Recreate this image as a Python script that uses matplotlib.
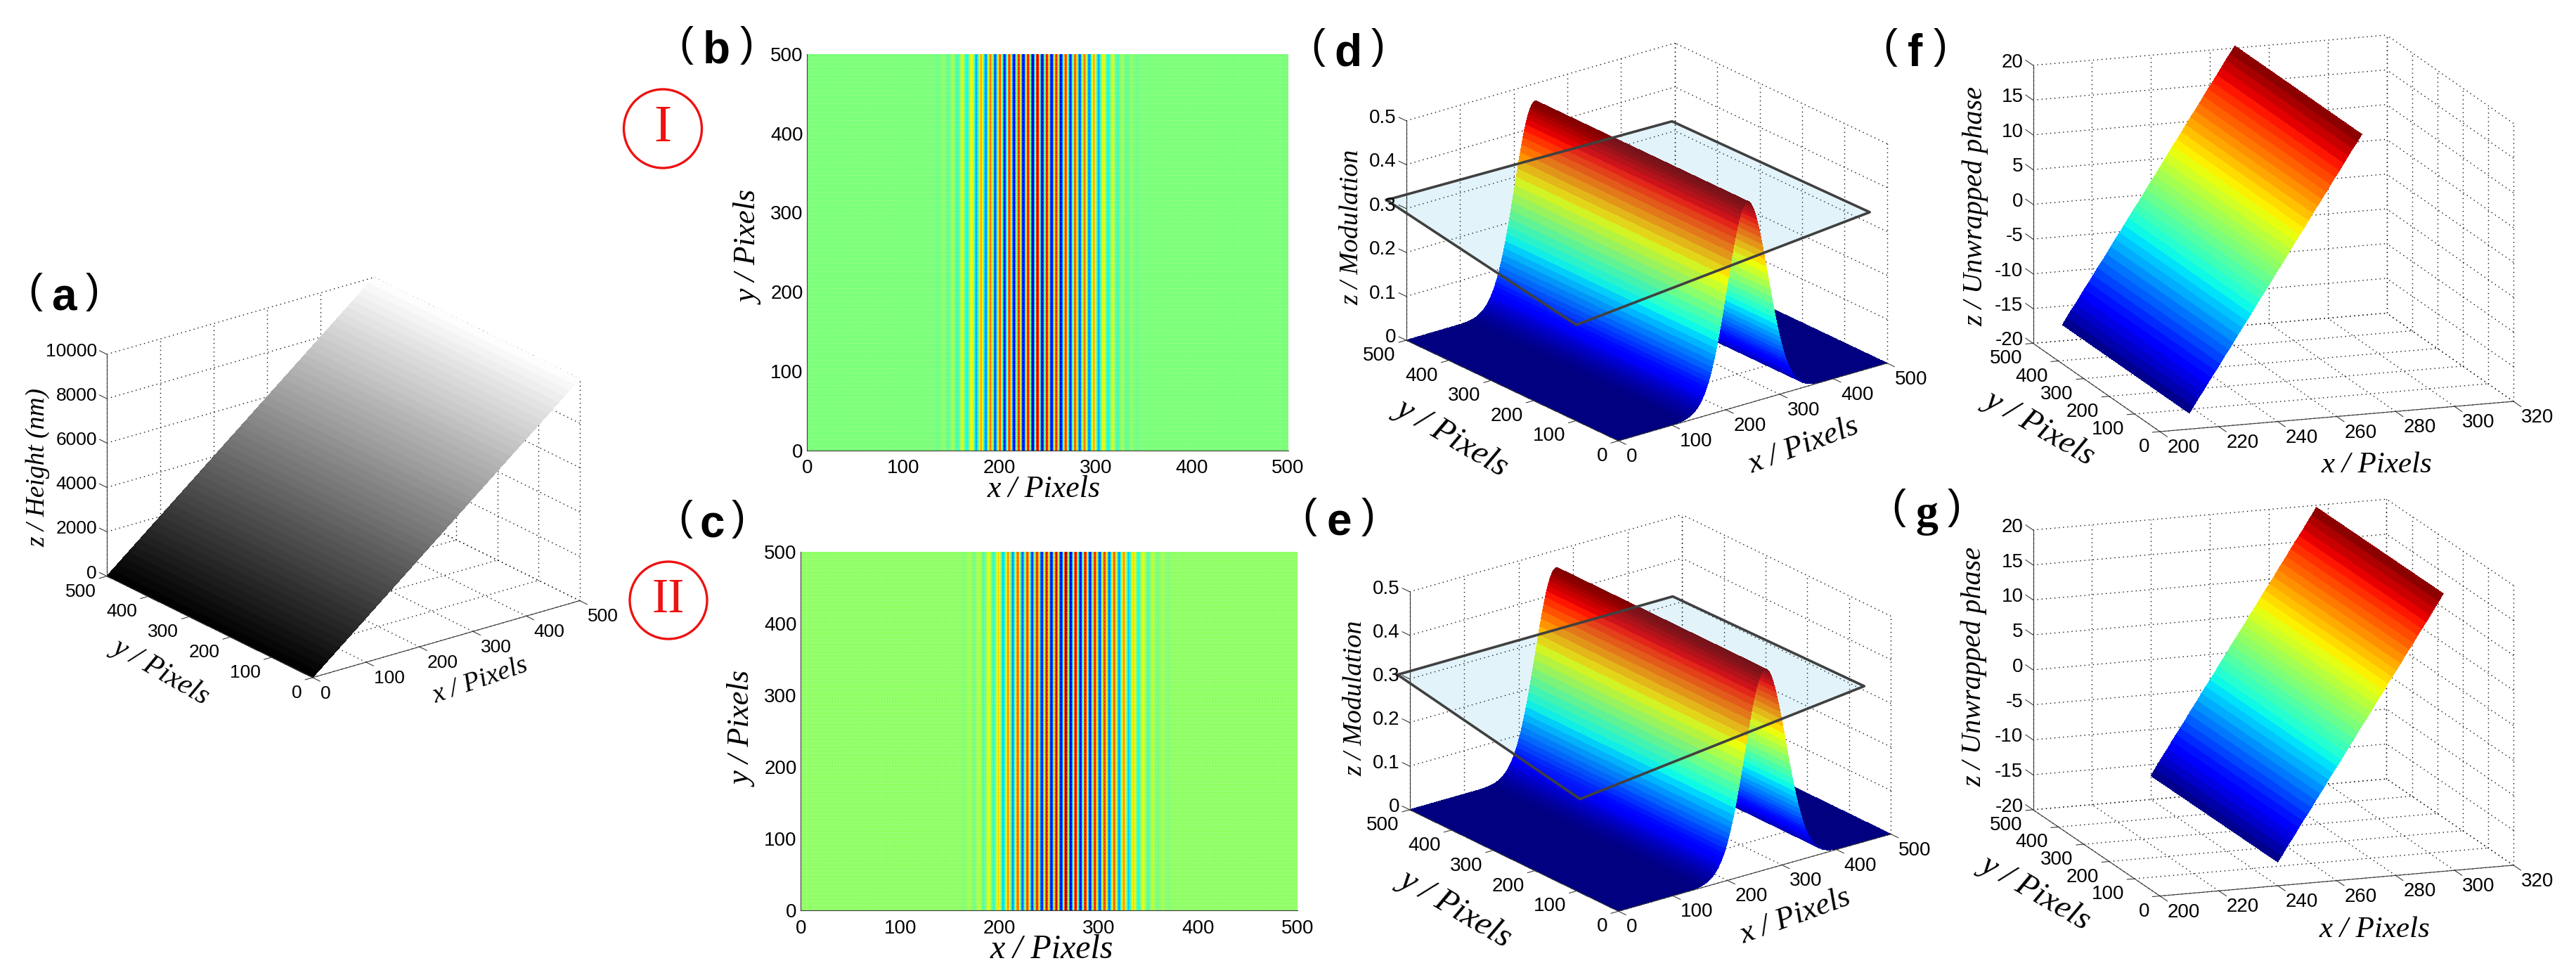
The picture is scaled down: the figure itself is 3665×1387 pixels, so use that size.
import math

import matplotlib
matplotlib.use("Agg")
import matplotlib.pyplot as plt
import numpy as np
from matplotlib.patches import Ellipse
from mpl_toolkits.mplot3d import proj3d
from mpl_toolkits.mplot3d.art3d import Poly3DCollection

W, H = 3666, 1387

# (a) height ramp, read every 10 pixels along x
height_x = list(range(0, 510, 10))
height_z = [0, 200, 400, 600, 800, 1000, 1200, 1400, 1600, 1800, 2000, 2200, 2400,
            2600, 2800, 3000, 3200, 3400, 3600, 3800, 4000, 4200, 4400, 4600, 4800,
            5000, 5200, 5400, 5600, 5800, 6000, 6200, 6400, 6600, 6800, 7000, 7200,
            7400, 7600, 7800, 8000, 8200, 8400, 8600, 8800, 9000, 9200, 9400, 9600,
            9800, 10000]

# (b), (c) fringe crests and troughs
fringe_b_x = [137.1, 142.0, 146.9, 151.8, 156.6, 161.5, 166.4, 171.3, 176.1, 181.0, 185.9,
              190.8, 195.6, 200.5, 205.4, 210.3, 215.1, 220.0, 224.9, 229.8, 234.6, 239.5,
              244.4, 249.3, 254.1, 259.0, 263.9, 268.8, 273.6, 278.5, 283.4, 288.3, 293.1,
              298.0, 302.9, 307.8, 312.6, 317.5, 322.4, 327.3, 332.1, 337.0, 341.9]
fringe_c_x = [165.2, 170.0, 174.9, 179.7, 184.6, 189.4, 194.3, 199.1, 204.0, 208.8, 213.7,
              218.5, 223.4, 228.2, 233.1, 237.9, 242.8, 247.6, 252.5, 257.3, 262.2, 267.0,
              271.9, 276.7, 281.6, 286.4, 291.3, 296.1, 301.0, 305.8, 310.7, 315.5, 320.4,
              325.2, 330.1, 334.9, 339.8, 344.6, 349.5, 354.3, 359.2, 364.0, 368.9]
fringe_v = [-0.03, 0.05, -0.07, 0.10, -0.15, 0.20, -0.25, 0.32, -0.40, 0.46, -0.50,
            0.58, -0.60, 0.65, -0.70, 0.72, -0.80, 0.78, -0.85, 0.82, -0.88, 0.95,
            -0.88, 0.82, -0.85, 0.78, -0.80, 0.72, -0.70, 0.65, -0.60, 0.58, -0.50,
            0.46, -0.40, 0.32, -0.25, 0.20, -0.15, 0.10, -0.07, 0.05, -0.03]
fringe_b_base = 0.0
fringe_c_base = 0.05

# (d), (e) modulation ridge, distance from ridge centre and height
mod_center_d = 240
mod_center_e = 269
mod_dist = [140, 135, 130, 125, 120, 117.5, 115, 112.5, 110, 107.5, 105, 102.5, 100, 97.5,
            95, 92.5, 90, 87.5, 85, 82.5, 80, 77.5, 75, 72.5, 70, 67.5, 65, 62.5, 60, 57.5,
            55, 52.5, 50, 47.5, 45, 42.5, 40, 37.5, 35, 32.5, 30, 27.5, 25, 22.5, 20, 17.5,
            15, 12.5, 10, 7.5, 5, 2.5, 0]
mod_z = [0.0005, 0.0008, 0.0013, 0.0021, 0.0031, 0.0039, 0.0047, 0.0058, 0.0070, 0.0084,
         0.0101, 0.0121, 0.0144, 0.0171, 0.0202, 0.0237, 0.0278, 0.0325, 0.0377, 0.0436,
         0.0501, 0.0575, 0.0656, 0.0745, 0.0843, 0.0948, 0.1065, 0.1190, 0.1323, 0.1464,
         0.1614, 0.1771, 0.1935, 0.2106, 0.2282, 0.2462, 0.2643, 0.2827, 0.3010, 0.3191,
         0.3369, 0.3540, 0.3705, 0.3860, 0.4005, 0.4137, 0.4255, 0.4358, 0.4444, 0.4511,
         0.4560, 0.4590, 0.4600]

# threshold planes at z = 0.3
plane_d_x = [-2, 520, 527, -87]
plane_d_y = [544, 532, 75, -11]
plane_e_x = [-4, 502, 510, -89]
plane_e_y = [524, 525, 77, -24]
plane_z = 0.3

# (f), (g) unwrapped phase
phase_f_x = [210 + 1.5 * i for i in range(40)]
phase_f_z = [-17.7, -16.7, -15.7, -14.8, -13.8, -12.8, -11.9, -10.9, -9.9, -9.0, -8.0, -7.0,
             -6.0, -5.1, -4.1, -3.1, -2.1, -1.2, -0.2, 0.8, 1.8, 2.7, 3.7, 4.7, 5.7, 6.7,
             7.6, 8.6, 9.6, 10.6, 11.5, 12.5, 13.5, 14.5, 15.4, 16.4, 17.4, 18.4, 19.3, 20.3]
phase_g_x = [240 + 1.44 * i for i in range(40)]
phase_g_z = [-16.6, -15.7, -14.7, -13.8, -12.9, -11.9, -11.0, -10.1, -9.2, -8.2, -7.3, -6.4,
             -5.4, -4.5, -3.6, -2.7, -1.7, -0.8, 0.1, 1.1, 2.0, 2.9, 3.8, 4.8, 5.7, 6.6,
             7.6, 8.5, 9.4, 10.3, 11.3, 12.2, 13.1, 14.1, 15.0, 15.9, 16.8, 17.8, 18.7, 19.7]

ticks_500 = [0, 100, 200, 300, 400, 500]
ticks_height = [0, 2000, 4000, 6000, 8000, 10000]
ticks_mod = [0, 0.1, 0.2, 0.3, 0.4, 0.5]
labels_mod = ["0", "0.1", "0.2", "0.3", "0.4", "0.5"]
ticks_phase_x = [200, 220, 240, 260, 280, 300, 320]
ticks_phase_z = [-20, -15, -10, -5, 0, 5, 10, 15, 20]

plt.rcParams["font.family"] = ["Liberation Sans", "DejaVu Sans"]
fig = plt.figure(figsize=(W / 100, H / 100), dpi=100, facecolor="white")

LINE = "#3a3a3a"
GRID = dict(color="#111111", lw=1.0, ls=(0, (1, 3.4)), zorder=1)
TICK_PT = 20

# full-figure layer in pixel coordinates for every label
ov = fig.add_axes([0, 0, 1, 1], zorder=20)
ov.set_xlim(0, W)
ov.set_ylim(H, 0)
ov.axis("off")


def to_px(ax, x, y, z):
    ax.apply_aspect()
    px, py, _ = proj3d.proj_transform(x, y, z, ax.get_proj())
    return ax.transData.transform((px, py))


def make_3d(origin, xvec, yvec, zlen, xlim, ylim, zlim):
    # work out the view from where the corners of the box sit in the picture
    r1 = -xvec[1] / xvec[0]
    r2 = yvec[1] / yvec[0]
    sin_e = math.sqrt(r1 * r2)
    ang = math.atan(math.sqrt(r1 / r2))
    elev = math.asin(sin_e)
    sx = xvec[0] / math.cos(ang)
    sy = -yvec[0] / math.sin(ang)
    sz = zlen / math.cos(elev)

    size = 1500
    ax = fig.add_axes([(origin[0] - size / 2) / W, 1 - (origin[1] + size / 2) / H, size / W, size / H],
                      projection="3d", computed_zorder=False)
    ax.set_proj_type("ortho")
    ax.view_init(elev=math.degrees(elev), azim=-90 - math.degrees(ang))
    ax.set_xlim(*xlim, view_margin=0)
    ax.set_ylim(*ylim, view_margin=0)
    ax.set_zlim(*zlim, view_margin=0)
    ax.set_box_aspect((sx, sy, sz))
    ax.set_axis_off()
    ax.patch.set_visible(False)

    p0 = to_px(ax, xlim[0], ylim[0], zlim[0])
    p1 = to_px(ax, xlim[1], ylim[0], zlim[0])
    ax.set_box_aspect((sx, sy, sz), zoom=xvec[0] / (p1[0] - p0[0]))
    p0 = to_px(ax, xlim[0], ylim[0], zlim[0])
    dx = origin[0] - p0[0]
    dy = (H - origin[1]) - p0[1]
    pos = ax.get_position()
    ax.set_position([pos.x0 + dx / W, pos.y0 + dy / H, pos.width, pos.height])
    return ax


def tick_text(ax, x, y, z, s, dx, dy, ha, size):
    p = to_px(ax, x, y, z)
    ov.text(p[0] + dx, H - p[1] + dy, s, ha=ha, va="center", fontsize=size)


def draw_frame(ax, xvec, yvec, xticks, yticks, zticks, xlabels, ylabels, zlabels, size=TICK_PT):
    x0, x1 = ax.get_xlim()
    y0, y1 = ax.get_ylim()
    z0, z1 = ax.get_zlim()
    for t in xticks:
        ax.plot([t, t], [y0, y1], [z0, z0], **GRID)
        ax.plot([t, t], [y1, y1], [z0, z1], **GRID)
    for t in yticks:
        ax.plot([x0, x1], [t, t], [z0, z0], **GRID)
        ax.plot([x1, x1], [t, t], [z0, z1], **GRID)
    for t in zticks:
        ax.plot([x0, x1], [y1, y1], [t, t], **GRID)
        ax.plot([x1, x1], [y0, y1], [t, t], **GRID)

    axis = dict(color=LINE, lw=0.8, zorder=6)
    ax.plot([x0, x1], [y0, y0], [z0, z0], **axis)
    ax.plot([x0, x0], [y0, y1], [z0, z0], **axis)
    ax.plot([x0, x0], [y1, y1], [z0, z1], **axis)

    # tick marks are about 10 px long on screen
    ty = 10.5 / abs(yvec[0]) * (y1 - y0)
    tx = 10.5 / abs(xvec[0]) * (x1 - x0)
    for t, s in zip(xticks, xlabels):
        ax.plot([t, t], [y0, y0 - ty], [z0, z0], **axis)
        tick_text(ax, t, y0, z0, s, 11, 23, "left", size)
    for t, s in zip(yticks, ylabels):
        ax.plot([x0, x0 - tx], [t, t], [z0, z0], **axis)
        tick_text(ax, x0, t, z0, s, -15, 22, "right", size)
    for t, s in zip(zticks, zlabels):
        ax.plot([x0, x0], [y1, y1 + ty], [t, t], **axis)
        tick_text(ax, x0, y1, t, s, -14, -4, "right", size)


def draw_ridge(ax, x, z, cmap, vmin, vmax, y0=0, y1=500):
    xx, yy = np.meshgrid(x, [y0, y1])
    zz = np.vstack([z, z])
    ax.plot_surface(xx, yy, zz, rstride=1, cstride=1, cmap=cmap, vmin=vmin, vmax=vmax,
                    shade=False, antialiased=False, linewidth=0, zorder=3)


def draw_plane(ax, xs, ys, z):
    verts = [list(zip(xs, ys, [z] * len(xs)))]
    ax.add_collection3d(Poly3DCollection(verts, facecolor=(0.12, 0.63, 0.85, 0.12),
                                         edgecolor="none", zorder=4))
    ax.plot(xs + xs[:1], ys + ys[:1], [z] * (len(xs) + 1), color="#404040", lw=2.6, zorder=5)


def draw_fringe(rect, x, v, base):
    ax = fig.add_axes([rect[0] / W, 1 - rect[3] / H, (rect[2] - rect[0]) / W, (rect[3] - rect[1]) / H])
    step = (x[-1] - x[0]) / (len(x) - 1)
    n_left = int(x[0] // step) + 2
    n_right = int((500 - x[-1]) // step) + 2
    vals = np.pad(np.array(v), (n_left, n_right)) + base
    left = x[0] - step * n_left - step / 2
    right = x[-1] + step * n_right + step / 2
    # interpolation on the data so that red to blue runs through the whole colormap
    ax.imshow(np.vstack([vals, vals, vals, vals]), extent=(left, right, 0, 500), origin="lower", aspect="auto",
              cmap="jet", vmin=-1, vmax=1, interpolation="catrom", interpolation_stage="data")
    ax.hlines(np.arange(3, 500, 5.3), 0, 500, colors="white", linestyles=(0, (1, 3)), lw=0.7, alpha=0.55)
    ax.set_xlim(0, 500)
    ax.set_ylim(0, 500)
    ax.set_xticks(ticks_500)
    ax.set_yticks(ticks_500)
    ax.tick_params(length=0, labelsize=TICK_PT)
    ax.tick_params(axis="x", pad=9)
    ax.tick_params(axis="y", pad=4)
    for side in ["top", "right"]:
        ax.spines[side].set_visible(False)
    for side in ["left", "bottom"]:
        ax.spines[side].set_color(LINE)
        ax.spines[side].set_linewidth(0.8)
    return ax


# ---------- (a)
a_x, a_y = (380, -109.4), (-292.8, -144.3)
ax_a = make_3d((444.8, 963.9), a_x, a_y, 315.6, (0, 500), (0, 500), (0, 10000))
draw_frame(ax_a, a_x, a_y, ticks_500, ticks_500, ticks_height,
           [str(t) for t in ticks_500], [str(t) for t in ticks_500], [str(t) for t in ticks_height], size=19)
draw_ridge(ax_a, height_x, height_z, "gray", 0, 10000)

# ---------- (b), (c)
draw_fringe((1148.3, 77, 1832.6, 640.5), fringe_b_x, fringe_v, fringe_b_base)
draw_fringe((1139.4, 785.4, 1846, 1295.4), fringe_c_x, fringe_v, fringe_c_base)

# ---------- (d), (e)
d_x_full = [0] + [mod_center_d - d for d in mod_dist] + [mod_center_d + d for d in mod_dist[-2::-1]] + [500]
e_x_full = [0] + [mod_center_e - d for d in mod_dist] + [mod_center_e + d for d in mod_dist[-2::-1]] + [500]
mod_full = [0] + mod_z + mod_z[-2::-1] + [0]

d_x, d_y = (382.2, -110.5), (-301.9, -143.1)
ax_d = make_3d((2302.6, 627.1), d_x, d_y, 312.2, (0, 500), (0, 500), (0, 0.5))
draw_frame(ax_d, d_x, d_y, ticks_500, ticks_500, ticks_mod,
           [str(t) for t in ticks_500], [str(t) for t in ticks_500], labels_mod)
draw_ridge(ax_d, d_x_full, mod_full, "jet", 0, 0.46)
draw_plane(ax_d, plane_d_x, plane_d_y, plane_z)

e_x, e_y = (387.6, -109.7), (-297.1, -144.4)
ax_e = make_3d((2302.7, 1296.3), e_x, e_y, 310.1, (0, 500), (0, 500), (0, 0.5))
draw_frame(ax_e, e_x, e_y, ticks_500, ticks_500, ticks_mod,
           [str(t) for t in ticks_500], [str(t) for t in ticks_500], labels_mod)
draw_ridge(ax_e, e_x_full, mod_full, "jet", 0, 0.46)
draw_plane(ax_e, plane_e_x, plane_e_y, plane_z)

# ---------- (f), (g)
f_x, f_y = (503, -43), (-180.5, -125.6)
ax_f = make_3d((3073, 614), f_x, f_y, 395.5, (200, 320), (0, 500), (-20, 20))
draw_frame(ax_f, f_x, f_y, ticks_phase_x, ticks_500, ticks_phase_z,
           [str(t) for t in ticks_phase_x], [str(t) for t in ticks_500], [str(t) for t in ticks_phase_z])
draw_ridge(ax_f, phase_f_x, phase_f_z, "jet", -17.7, 20.3)

g_x, g_y = (503, -43.8), (-180.5, -122.7)
ax_g = make_3d((3073, 1274.6), g_x, g_y, 398, (200, 320), (0, 500), (-20, 20))
draw_frame(ax_g, g_x, g_y, ticks_phase_x, ticks_500, ticks_phase_z,
           [str(t) for t in ticks_phase_x], [str(t) for t in ticks_500], [str(t) for t in ticks_phase_z])
draw_ridge(ax_g, phase_g_x, phase_g_z, "jet", -16.6, 19.7)


def axis_label(x, y, s, size, rot):
    ov.text(x, y, s, family=["Liberation Serif", "DejaVu Serif"], style="italic", fontsize=size,
            rotation=rot, rotation_mode="anchor", ha="center", va="center")


def panel_label(cx, cy, half, letter, family="Liberation Sans"):
    ov.text(cx - half + 6, cy, "(", fontsize=43, ha="center", va="center")
    ov.text(cx + half - 6, cy, ")", fontsize=43, ha="center", va="center")
    ov.text(cx, cy + 26, letter, family=family, fontsize=46, weight="bold", ha="center", va="baseline")


panel_label(90.7, 415.6, 47, "a")
panel_label(1019.5, 64, 49, "b")
panel_label(1013, 738.6, 44, "c")
panel_label(1917.8, 67.7, 49, "d")
panel_label(1905, 735.5, 48, "e")
panel_label(2725, 67.7, 42, "f")
panel_label(2741, 722.5, 46, "g", family="Liberation Serif")

axis_label(54.5, 664.7, "z / Height (nm)", 27, 90)
axis_label(683, 968, "x / Pixels", 27.7, 19)
axis_label(229.6, 954.8, "y / Pixels", 30, -30)

axis_label(1485, 696, "x / Pixels", 31.6, 0)
axis_label(1067, 352.6, "y / Pixels", 31.6, 90)
axis_label(1496, 1351, "x / Pixels", 34.5, 0)
axis_label(1058, 1037, "y / Pixels", 32, 90)

axis_label(1923, 323.6, "z / Modulation", 27.4, 90)
axis_label(2565.6, 633.7, "x / Pixels", 32.4, 20.5)
axis_label(2065.8, 620.7, "y / Pixels", 34.8, -30.5)
axis_label(1928.6, 993.6, "z / Modulation", 27.4, 90)
axis_label(2554.7, 1303.7, "x / Pixels", 32.4, 20)
axis_label(2071, 1290.7, "y / Pixels", 34.8, -30.5)

axis_label(2811, 293, "z / Unwrapped phase", 29, 90)
axis_label(3381, 662, "x / Pixels", 31, 0)
axis_label(2903, 608, "y / Pixels", 34, -30)
axis_label(2809, 948, "z / Unwrapped phase", 29, 90)
axis_label(3378, 1323, "x / Pixels", 31, 0)
axis_label(2897, 1269, "y / Pixels", 34, -30)

ov.add_patch(Ellipse((943, 183), 111, 112, fill=False, edgecolor="#ee1111", lw=2.4))
ov.add_patch(Ellipse((951, 854), 110, 110, fill=False, edgecolor="#ee1111", lw=2.4))
ov.text(943, 183, "I", family="Liberation Serif", color="#ee1111", fontsize=54, ha="center", va="center")
ov.text(951, 854, "II", family="Liberation Serif", color="#ee1111", fontsize=50, ha="center", va="center")

fig.savefig("out.png", dpi=100, facecolor="white")
